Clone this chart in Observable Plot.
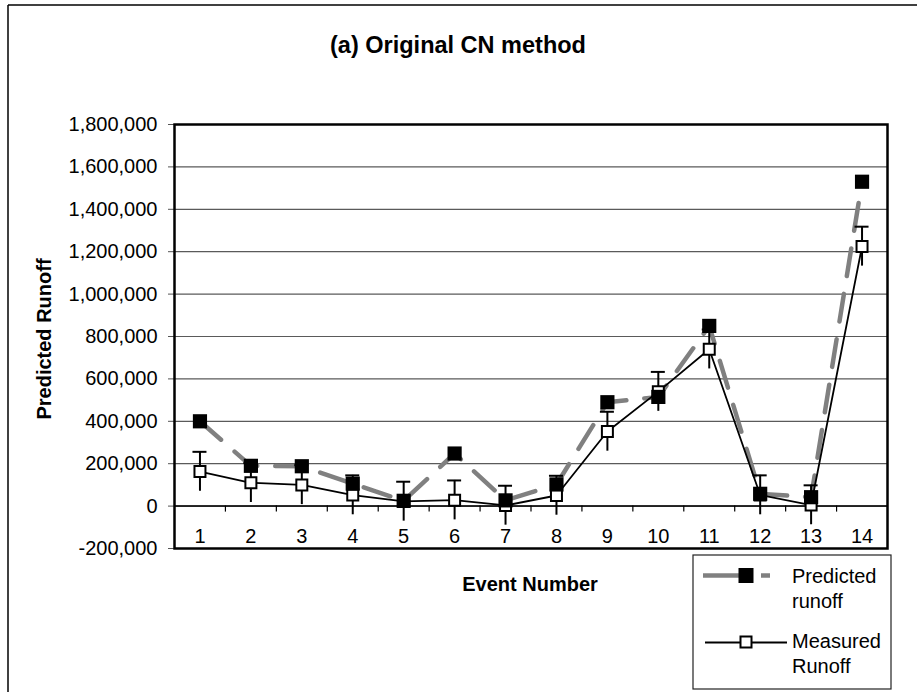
<!DOCTYPE html>
<html>
<head>
<meta charset="utf-8">
<script src="https://cdn.jsdelivr.net/npm/d3@7"></script>
<script src="https://cdn.jsdelivr.net/npm/@observablehq/plot@0.6"></script>
<style>
  html, body { margin: 0; padding: 0; background: #fff; }
  #wrap { position: relative; width: 917px; height: 692px; overflow: hidden; font-family: "Liberation Sans", Arial, sans-serif; }
  #wrap > svg { position: absolute; left: 0; top: 0; }
  #overlay { pointer-events: none; }
</style>
</head>
<body>
<div id="wrap"></div>
<script>
// ---- data ----
const events = [1, 2, 3, 4, 5, 6, 7, 8, 9, 10, 11, 12, 13, 14];
const predicted = [400000, 190000, 188000, 106000, 25000, 248000, 27000, 102000, 490000, 515000, 850000, 58000, 42000, 1530000];
const measured = [163000, 110000, 100000, 52000, 22000, 28000, 3000, 50000, 352000, 540000, 740000, 52000, 5000, 1225000];
const measuredError = [93000, 93000, 93000, 93000, 93000, 93000, 93000, 93000, 93000, 93000, 93000, 93000, 93000, 93000];
const yTicks = [-200000, 0, 200000, 400000, 600000, 800000, 1000000, 1200000, 1400000, 1600000, 1800000];
const titleText = "(a) Original CN method";
const xTitle = "Event Number";
const yTitle = "Predicted Runoff";
const legendLabels = [["Predicted", "runoff"], ["Measured", "Runoff"]];

const table = events.map((e, i) => ({
  event: e,
  predicted: predicted[i],
  measured: measured[i],
  lo: measured[i] - measuredError[i],
  hi: measured[i] + measuredError[i]
}));
const boundaries = events.slice(1).map(e => e - 0.5);
const fmt = d3.format(",");
const yFormat = d => fmt(d).replace("\u2212", "-");

const W = 917, H = 692;
const chart = Plot.plot({
  width: W,
  height: H,
  marginTop: 124,
  marginRight: 30,
  marginBottom: 144,
  marginLeft: 174,
  style: { fontFamily: '"Liberation Sans", Arial, sans-serif', fontSize: "20px", background: "transparent", color: "black", overflow: "visible" },
  x: { type: "linear", domain: [0.5, 14.5], axis: null },
  y: { domain: [-200000, 1800000], axis: null },
  marks: [
    Plot.gridY(yTicks, { stroke: "#5a5a5a", strokeOpacity: 1, strokeWidth: 1.2 }),
    Plot.ruleY([0], { stroke: "black", strokeWidth: 1.5 }),
    Plot.ruleX(boundaries, { x: d => d, y1: 0, y2: 0, insetBottom: -6, stroke: "black", strokeWidth: 1.2 }),
    Plot.axisY({ ticks: yTicks, tickFormat: yFormat, tickSize: 6, tickPadding: 11, fontSize: 20, stroke: "#555", label: null, anchor: "left" }),
    Plot.axisX({ ticks: events, tickFormat: d => String(d), tickSize: 0, tickPadding: 0, fontSize: 20, anchor: "bottom", dy: -20, label: null }),
    Plot.line(table, { x: "event", y: "predicted", stroke: "#808080", strokeWidth: 4.5, strokeDasharray: "28,18" }),
    Plot.line(table, { x: "event", y: "measured", stroke: "black", strokeWidth: 1.8 }),
    Plot.ruleX(table, { x: "event", y1: "lo", y2: "hi", stroke: "black", strokeWidth: 2 }),
    Plot.ruleY(table, { y: "hi", x1: "event", x2: "event", insetLeft: -7, insetRight: -7, stroke: "black", strokeWidth: 2 }),
    Plot.dot(table, { x: "event", y: "measured", symbol: "square", r: 6.2, fill: "white", stroke: "black", strokeWidth: 2 }),
    Plot.dot(table, { x: "event", y: "predicted", symbol: "square", r: 8, fill: "black", stroke: "none" }),
    Plot.frame({ stroke: "black", strokeWidth: 2.5 })
  ]
});
const wrap = document.getElementById("wrap");
wrap.appendChild(chart);

// ---- overlay: outer border, titles, legend ----
const ns = "http://www.w3.org/2000/svg";
const ov = document.createElementNS(ns, "svg");
ov.setAttribute("id", "overlay");
ov.setAttribute("width", W);
ov.setAttribute("height", H);
ov.style.fontFamily = '"Liberation Sans", Arial, sans-serif';
wrap.appendChild(ov);
function el(tag, attrs, text) {
  const e = document.createElementNS(ns, tag);
  for (const k in attrs) e.setAttribute(k, attrs[k]);
  if (text != null) e.textContent = text;
  ov.appendChild(e);
  return e;
}
// outer chart-area border (right/bottom edges fall outside the picture)
el("line", { x1: 8, y1: 5, x2: W + 5, y2: 5, stroke: "black", "stroke-width": 1.5 });
el("line", { x1: 8, y1: 5, x2: 8, y2: H + 5, stroke: "black", "stroke-width": 1.5 });
// title
el("text", { x: 458, y: 53, "text-anchor": "middle", "font-size": 23.5, "font-weight": "bold" }, titleText);
// axis titles
el("text", { x: 530, y: 591, "text-anchor": "middle", "font-size": 20, "font-weight": "bold" }, xTitle);
el("text", { transform: "translate(51,339) rotate(-90)", "text-anchor": "middle", "font-size": 20, "font-weight": "bold" }, yTitle);
// legend
el("rect", { x: 693, y: 555, width: 198, height: 134, fill: "white", stroke: "#222", "stroke-width": 1.2 });
el("line", { x1: 703, y1: 575.5, x2: 740, y2: 575.5, stroke: "#808080", "stroke-width": 4.5 });
el("line", { x1: 761, y1: 575.5, x2: 770, y2: 575.5, stroke: "#808080", "stroke-width": 4.5 });
el("rect", { x: 738.5, y: 568, width: 15, height: 15, fill: "black" });
el("line", { x1: 705, y1: 642.5, x2: 787, y2: 642.5, stroke: "black", "stroke-width": 1.8 });
el("rect", { x: 740.5, y: 636.5, width: 11, height: 11, fill: "white", stroke: "black", "stroke-width": 2 });
el("text", { x: 792, y: 583, "font-size": 20 }, legendLabels[0][0]);
el("text", { x: 792, y: 608, "font-size": 20 }, legendLabels[0][1]);
el("text", { x: 792, y: 648, "font-size": 20 }, legendLabels[1][0]);
el("text", { x: 792, y: 673, "font-size": 20 }, legendLabels[1][1]);
</script>
</body>
</html>
